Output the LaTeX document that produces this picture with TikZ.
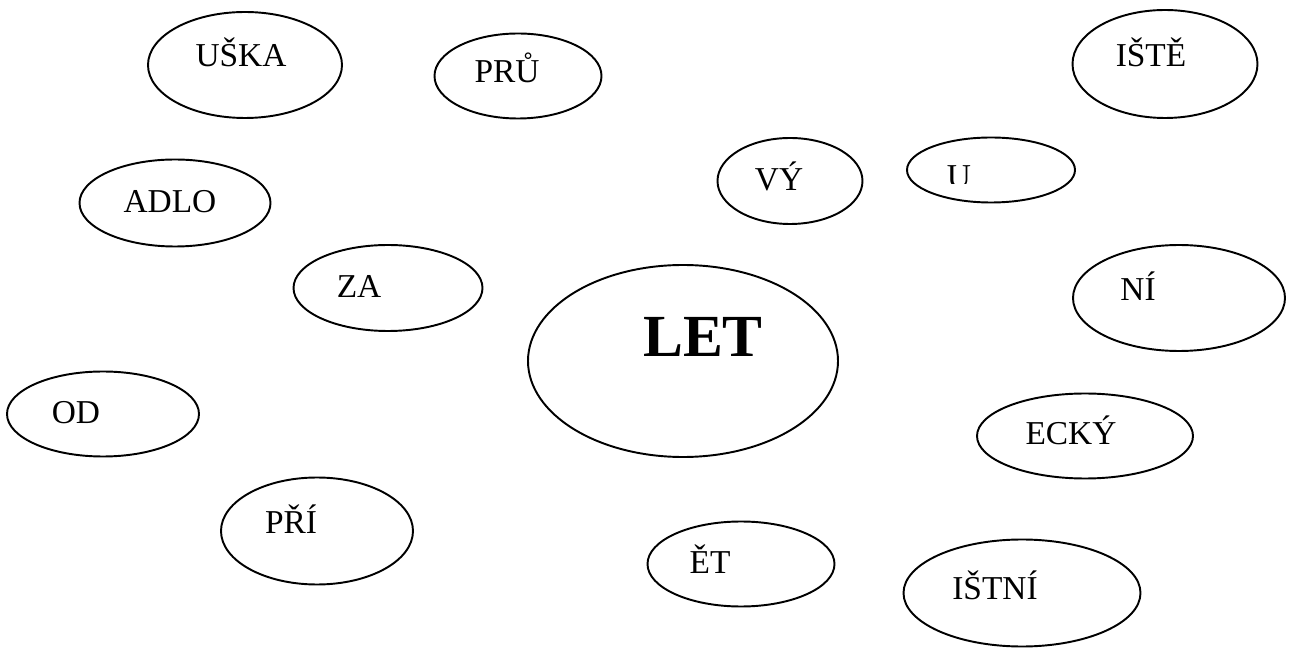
\documentclass[tikz,border=0pt]{standalone}
\usepackage{fontspec}
\setmainfont{Liberation Serif}
\usetikzlibrary{shapes.geometric}
\tikzset{
  blob/.style 2 args={ellipse, draw, line width=1.1pt, inner sep=0pt, minimum width=#1*0.02cm, minimum height=#2*0.02cm},
  word/.style={anchor=base, inner sep=0pt, font=\fontsize{19}{23}\selectfont},
  bigword/.style={anchor=base, inner sep=0pt, font=\fontsize{34}{40}\selectfont\bfseries}
}
\begin{document}
\begin{tikzpicture}[x=0.02cm, y=-0.02cm]
                \useasboundingbox (0,0) rectangle (1292,648);

                \node[blob={194}{106}] (uska) at (245,65) {}; \node[blob={167}{85}] (pru) at (518,76) {}; \node[blob={185}{108}] (iste) at (1165,64) {};
                \node[blob={191}{87}] (adlo) at (175,203) {}; \node[blob={145}{86}] (vy) at (790,181) {}; \node[blob={168}{65}] (u) at (991,170) {};
                \node[blob={189}{86}] (za) at (388,288) {}; \node[blob={310}{192}] (let) at (683,361) {}; \node[blob={212}{106}] (ni) at (1179,298) {};
                \node[blob={192}{85}] (od) at (103,414) {}; \node[blob={216}{85}] (ecky) at (1085,436) {};
                \node[blob={192}{107}] (pri) at (317,531) {}; \node[blob={187}{85}] (et) at (741,564) {}; \node[blob={237}{107}] (istni) at (1022,593) {};

                \node[word] (uskaW) at (241,67) {UŠKA}; \node[word] (pruW) at (507,83) {PRŮ}; \node[word] (isteW) at (1151,67) {IŠTĚ};
                \node[word] (adloW) at (170,213) {ADLO}; \node[word] (vyW) at (779,191) {VÝ};
                \begin{scope}
                  \clip (900,140) rectangle (1000,184);
                  \node[word] (uW) at (959,187.5) {U};
                \end{scope}
                \node[word] (zaW) at (359,298) {ZA}; \node[bigword] (letW) at (703,357) {LET}; \node[word] (niW) at (1138,301) {NÍ};
                \node[word] (odW) at (76,424) {OD}; \node[word] (eckyW) at (1071,445) {ECKÝ};
                \node[word] (priW) at (291,534) {PŘÍ}; \node[word] (etW) at (710,573) {ĚT}; \node[word] (istniW) at (995,600) {IŠTNÍ};
            \end{tikzpicture}
\end{document}
